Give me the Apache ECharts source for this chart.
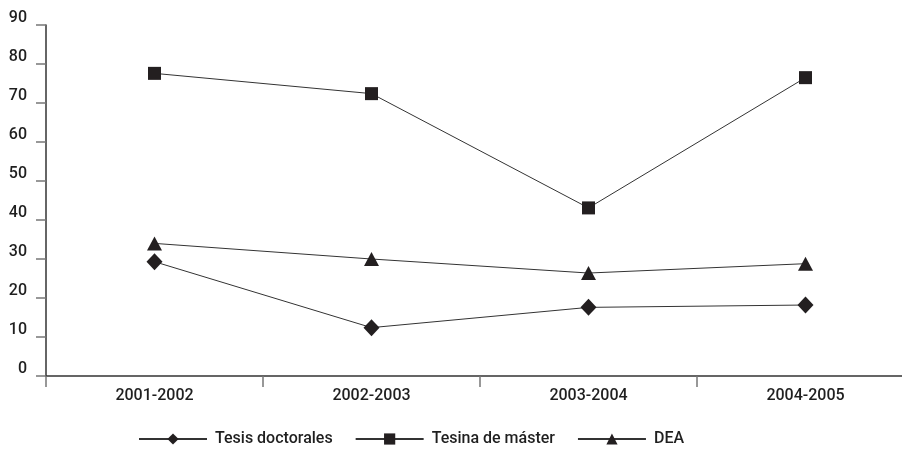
<!DOCTYPE html>
<html><head><meta charset="utf-8">
<script src="https://cdn.jsdelivr.net/npm/echarts@6/dist/echarts.min.js"></script>
<style>html,body{margin:0;padding:0;background:#fff}#c{width:902px;height:453px}</style>
</head><body><div id="c"></div>
<script>
const categories = ['2001-2002', '2002-2003', '2003-2004', '2004-2005'];
const tesisDoctorales = [29.3, 12.4, 17.6, 18.2];
const tesinaMaster = [77.6, 72.4, 43.1, 76.5];
const dea = [34, 30, 26.4, 28.8];
const yTicks = [0, 10, 20, 30, 40, 50, 60, 70, 80, 90];

const FONT = 'Roboto';
const FW = 500;
const FS = 16;
const chart = echarts.init(document.getElementById('c'), null, {renderer: 'canvas'});
function mk(name, data, symbol, size) {
  return {
    name, type: 'line', data, symbol, symbolSize: size,
    lineStyle: {color: '#333', width: 1},
    itemStyle: {color: '#231f20', borderWidth: 0},
    emphasis: {disabled: true}, animation: false
  };
}
chart.setOption({
  animation: false,
  grid: {left: 46, width: 868, top: 25, bottom: 77, containLabel: false, outerBoundsMode: 'none'},
  xAxis: {
    type: 'category', data: categories, boundaryGap: true,
    axisLine: {lineStyle: {color: '#333', width: 1.5}},
    axisTick: {show: true, length: 11, alignWithLabel: false, lineStyle: {color: '#777', width: 1.5}},
    axisLabel: {margin: 12, color: '#1f1f1f', fontFamily: FONT, fontWeight: FW, fontSize: FS}
  },
  yAxis: {
    type: 'value', min: 0, max: 90, interval: 10,
    splitLine: {show: false},
    axisLine: {show: true, lineStyle: {color: '#333', width: 1.5}},
    axisTick: {show: true, length: 10, lineStyle: {color: '#777', width: 1.5}},
    axisLabel: {
      margin: 19, color: '#1f1f1f', fontFamily: FONT, fontWeight: FW, fontSize: FS,
      verticalAlign: 'bottom', lineHeight: 14,
      formatter: v => yTicks.includes(v) ? String(v) : ''
    }
  },
  legend: {
    left: 138, top: 431, padding: 0, itemWidth: 68, itemHeight: 14, itemGap: 22,
    textStyle: {color: '#1f1f1f', fontFamily: FONT, fontWeight: FW, fontSize: FS, padding: [0, 0, 0, 3]},
    data: ['Tesis doctorales', 'Tesina de máster', 'DEA']
  },
  series: [
    mk('Tesis doctorales', tesisDoctorales, 'diamond', [16, 17]),
    mk('Tesina de máster', tesinaMaster, 'rect', 13),
    mk('DEA', dea, 'triangle', [15, 14])
  ]
});
</script></body></html>
